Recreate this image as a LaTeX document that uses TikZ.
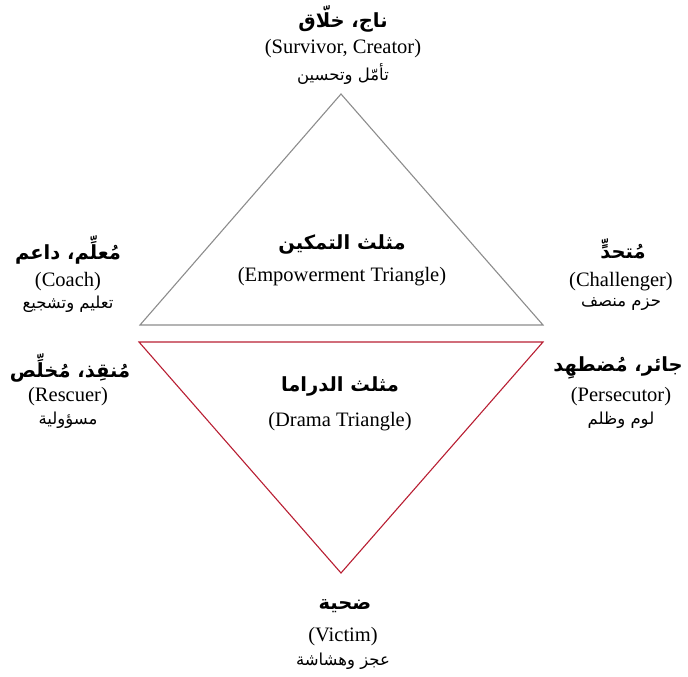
\documentclass[tikz,border=0pt]{standalone}
\usepackage{fontspec}
\setmainfont{Liberation Serif}
\newfontfamily\arabicfont[Script=Arabic]{DejaVu Sans}
\TeXXeTstate=1
\definecolor{empgray}{HTML}{8C8C8C}
\definecolor{dramared}{HTML}{B81E32}
\tikzset{
  artitle/.style={inner sep=0pt, font=\arabicfont\bfseries\fontsize{19.5}{23}\selectfont},
  ensub/.style={inner sep=0pt, font=\fontsize{20.5}{24}\selectfont},
  arsub/.style={inner sep=0pt, font=\arabicfont\fontsize{16.5}{19}\selectfont},
  emptri/.style={draw=empgray, line width=1.1pt, line join=miter},
  dramatri/.style={draw=dramared, line width=1.1pt, line join=miter}
}
\begin{document}
\begin{tikzpicture}[x=1pt,y=-1pt]
\useasboundingbox (0,0) rectangle (688,677);
% triangle corners
\coordinate (etop) at (341,94);
\coordinate (eleft) at (140,325);
\coordinate (eright) at (543,325);
\coordinate (dleft) at (139,342);
\coordinate (dright) at (543,342);
\coordinate (dbot) at (341,573);
\draw[emptri] (etop) -- (eright) -- (eleft) -- cycle;
\draw[dramatri] (dleft) -- (dright) -- (dbot) -- cycle;

% top: survivor
\node[artitle] (t1) at (343,19) {\beginR ناج، خلّاق\endR};
\node[ensub] (t2) at (343,49) {(Survivor, Creator)};
\node[arsub] (t3) at (343,74) {\beginR تأمّل وتحسين\endR};

% centre: empowerment
\node[artitle] (c1) at (342,244) {\beginR مثلث التمكين\endR};
\node[ensub] (c2) at (342,277) {(Empowerment Triangle)};

% centre: drama
\node[artitle] (d1) at (340,386) {\beginR مثلث الدراما\endR};
\node[ensub] (d2) at (340,422) {(Drama Triangle)};

% coach
\node[artitle] (l1) at (68,250) {\beginR مُعلِّم، داعم\endR};
\node[ensub] (l2) at (68,282) {(Coach)};
\node[arsub] (l3) at (68,304) {\beginR تعليم وتشجيع\endR};

% challenger
\node[artitle] (r1) at (623,249) {\beginR مُتحدٍّ\endR};
\node[ensub] (r2) at (621,282) {(Challenger)};
\node[arsub] (r3) at (621,304) {\beginR حزم منصف\endR};

% rescuer
\node[artitle] (lr1) at (70,368) {\beginR مُنقِذ، مُخلِّص\endR};
\node[ensub] (lr2) at (68,397) {(Rescuer)};
\node[arsub] (lr3) at (68,420) {\beginR مسؤولية\endR};

% persecutor
\node[artitle] (rp1) at (618,368) {\beginR جائر، مُضطهِد\endR};
\node[ensub] (rp2) at (621,397) {(Persecutor)};
\node[arsub] (rp3) at (621,420) {\beginR لوم وظلم\endR};

% victim
\node[artitle] (v1) at (345,606) {\beginR ضحية\endR};
\node[ensub] (v2) at (343,637) {(Victim)};
\node[arsub] (v3) at (343,661) {\beginR عجز وهشاشة\endR};
\end{tikzpicture}
\end{document}
